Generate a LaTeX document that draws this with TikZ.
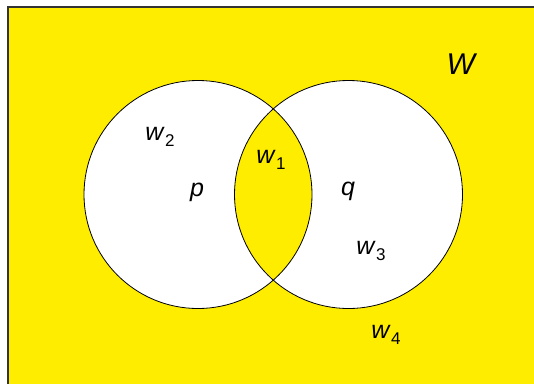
\documentclass[tikz,border=0pt]{standalone}
\usepackage{fontspec}
\setmainfont{Liberation Sans}
\definecolor{venny}{RGB}{255,237,0}
\newcommand\varw[1]{\textit{w}\kern0.5pt\raisebox{-0.45ex}{\fontsize{17}{17}\selectfont #1}}
\begin{document}
\begin{tikzpicture}[x=1pt,y=-1pt,
  lbl/.style={inner sep=0pt,font=\fontsize{25}{25}\selectfont},
  ring/.style={draw=black,line width=0.8pt}]
\useasboundingbox (0,0) rectangle (534,383);
\begin{scope}
\clip (0,0) rectangle (534,383);
\fill[venny] (8,7) rectangle (545,395);
\draw[line width=1.6pt,black!80] (8,395) -- (8,7) -- (545,7);
\end{scope}
\coordinate (cp) at (198,194.5);
\coordinate (cq) at (348.5,194.5);
\fill[white] (cp) circle (114);
\fill[white] (cq) circle (114);
\begin{scope}
\clip (cp) circle (114);
\fill[venny] (cq) circle (114);
\end{scope}
\draw[ring] (cp) circle (114);
\draw[ring] (cq) circle (114);
\node[lbl,font=\fontsize{30}{30}\selectfont] (W) at (462,64) {\textit{W}};
\node[lbl] (w2) at (160,137) {\varw{2}};
\node[lbl] (p) at (197,192) {\textit{p}};
\node[lbl] (w1) at (271,160) {\varw{1}};
\node[lbl] (q) at (348,191) {\textit{q}};
\node[lbl] (w3) at (371,251) {\varw{3}};
\node[lbl] (w4) at (386,335) {\varw{4}};
\end{tikzpicture}
\end{document}
